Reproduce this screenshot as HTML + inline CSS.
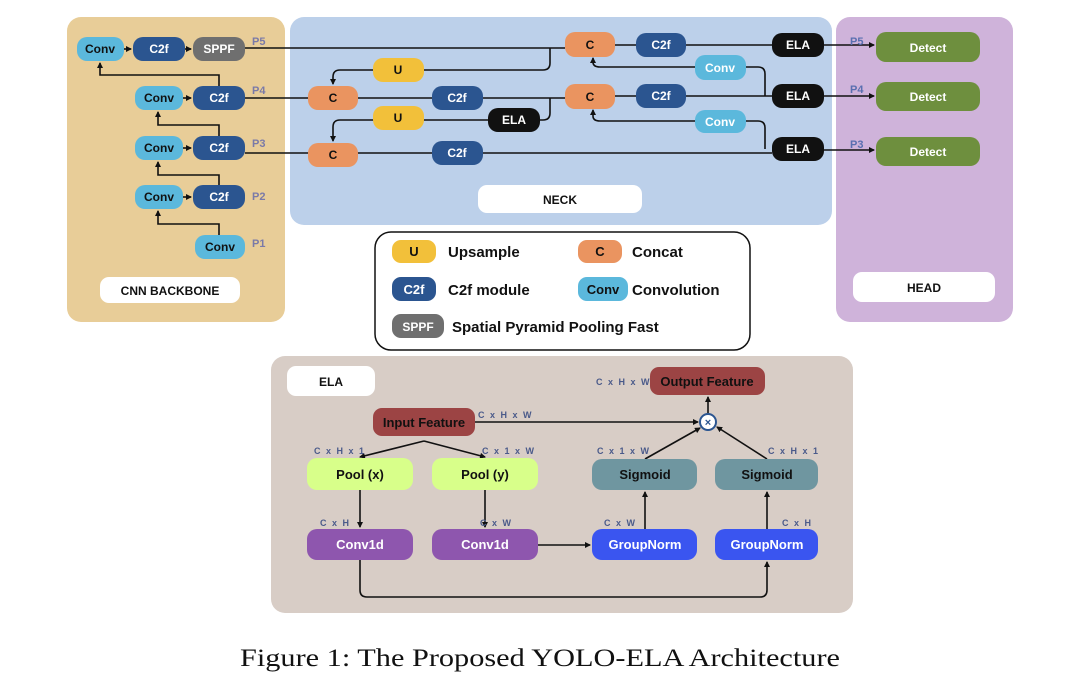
<!DOCTYPE html>
<html><head><meta charset="utf-8"><style>
body{margin:0;background:#fff;}
svg text{font-family:"Liberation Sans",sans-serif;font-weight:bold;}
</style></head><body>
<svg width="1080" height="674" viewBox="0 0 1080 674" xmlns="http://www.w3.org/2000/svg">
<defs>
<marker id="a" markerWidth="6" markerHeight="6" refX="5" refY="3" orient="auto" markerUnits="userSpaceOnUse"><path d="M0,0 L6,3 L0,6z" fill="#111"/></marker>
</defs>
<rect x="67" y="17" width="218" height="305" rx="14" fill="#e8cd98"/>
<rect x="290" y="17" width="542" height="208" rx="14" fill="#bcd0ea"/>
<rect x="836" y="17" width="177" height="305" rx="14" fill="#cfb3da"/>
<rect x="271" y="356" width="582" height="257" rx="14" fill="#d8cdc6"/>
<rect x="375" y="232" width="375" height="118" rx="16" fill="#fff" stroke="#111" stroke-width="1.5"/>
<rect x="100" y="277" width="140" height="26" rx="9" fill="#fff"/>
<text x="170" y="295" font-size="12" text-anchor="middle" fill="#111">CNN BACKBONE</text>
<rect x="478" y="185" width="164" height="28" rx="9" fill="#fff"/>
<text x="560" y="204" font-size="12" text-anchor="middle" fill="#111">NECK</text>
<rect x="853" y="272" width="142" height="30" rx="9" fill="#fff"/>
<text x="924" y="292" font-size="12" text-anchor="middle" fill="#111">HEAD</text>
<rect x="287" y="366" width="88" height="30" rx="9" fill="#fff"/>
<text x="331" y="386" font-size="12" text-anchor="middle" fill="#111" font-weight="normal">ELA</text>

<g stroke="#111" stroke-width="1.6" fill="none">
<line x1="124" y1="49" x2="131" y2="49" marker-end="url(#a)"/>
<line x1="185" y1="49" x2="191" y2="49" marker-end="url(#a)"/>
<line x1="183" y1="98" x2="191" y2="98" marker-end="url(#a)"/>
<line x1="183" y1="148" x2="191" y2="148" marker-end="url(#a)"/>
<line x1="183" y1="197" x2="191" y2="197" marker-end="url(#a)"/>
<path d="M219 86 V75 H100 V63" marker-end="url(#a)"/>
<path d="M219 136 V125 H158 V112" marker-end="url(#a)"/>
<path d="M219 185 V175 H158 V162" marker-end="url(#a)"/>
<path d="M219 235 V224 H158 V211" marker-end="url(#a)"/>
<path d="M245 48 H565"/>
<path d="M550 48 V63 Q550 70 543 70 H340 Q333 70 333 77 V84" marker-end="url(#a)"/>
<path d="M245 98 H615"/>
<path d="M550 98 V113 Q550 120 543 120 H340 Q333 120 333 127 V141" marker-end="url(#a)"/>
<path d="M245 153 H772"/>
<path d="M615 45 H772"/>
<path d="M615 96 H772"/>
<path d="M765 96 V74 Q765 67 758 67 H600 Q593 67 593 62 V58" marker-end="url(#a)"/>
<path d="M765 149 V128 Q765 121 758 121 H600 Q593 121 593 116 V110" marker-end="url(#a)"/>
<line x1="824" y1="45" x2="874" y2="45" marker-end="url(#a)"/>
<line x1="824" y1="96" x2="874" y2="96" marker-end="url(#a)"/>
<line x1="824" y1="150" x2="874" y2="150" marker-end="url(#a)"/>
<line x1="475" y1="422" x2="698" y2="422" marker-end="url(#a)"/>
<line x1="708" y1="413" x2="708" y2="397" marker-end="url(#a)"/>
<line x1="424" y1="441" x2="360" y2="457" marker-end="url(#a)"/>
<line x1="424" y1="441" x2="485" y2="457" marker-end="url(#a)"/>
<line x1="360" y1="490" x2="360" y2="527" marker-end="url(#a)"/>
<line x1="485" y1="490" x2="485" y2="527" marker-end="url(#a)"/>
<line x1="538" y1="545" x2="590" y2="545" marker-end="url(#a)"/>
<line x1="645" y1="529" x2="645" y2="492" marker-end="url(#a)"/>
<line x1="767" y1="529" x2="767" y2="492" marker-end="url(#a)"/>
<line x1="645" y1="459" x2="700" y2="428" marker-end="url(#a)"/>
<line x1="767" y1="459" x2="717" y2="427" marker-end="url(#a)"/>
<path d="M360 560 V590 Q360 597 367 597 H760 Q767 597 767 590 V562" marker-end="url(#a)"/>
</g>
<circle cx="708" cy="422" r="8" fill="#fff" stroke="#2b5590" stroke-width="2"/>
<text x="708" y="426" font-size="11" text-anchor="middle" fill="#2b5590">×</text>

<g font-size="12" text-anchor="middle">
<rect x="77" y="37" width="47" height="24" rx="10" fill="#5bb8dc"/><text x="100" y="53" fill="#111">Conv</text>
<rect x="133" y="37" width="52" height="24" rx="10" fill="#2b5590"/><text x="159" y="53" fill="#fff">C2f</text>
<rect x="193" y="37" width="52" height="24" rx="10" fill="#6f6f6f"/><text x="219" y="53" fill="#fff">SPPF</text>
<rect x="135" y="86" width="48" height="24" rx="10" fill="#5bb8dc"/><text x="159" y="102" fill="#111">Conv</text>
<rect x="193" y="86" width="52" height="24" rx="10" fill="#2b5590"/><text x="219" y="102" fill="#fff">C2f</text>
<rect x="135" y="136" width="48" height="24" rx="10" fill="#5bb8dc"/><text x="159" y="152" fill="#111">Conv</text>
<rect x="193" y="136" width="52" height="24" rx="10" fill="#2b5590"/><text x="219" y="152" fill="#fff">C2f</text>
<rect x="135" y="185" width="48" height="24" rx="10" fill="#5bb8dc"/><text x="159" y="201" fill="#111">Conv</text>
<rect x="193" y="185" width="52" height="24" rx="10" fill="#2b5590"/><text x="219" y="201" fill="#fff">C2f</text>
<rect x="195" y="235" width="50" height="24" rx="10" fill="#5bb8dc"/><text x="220" y="251" fill="#111">Conv</text>
<rect x="565" y="32" width="50" height="25" rx="10" fill="#ea9460"/><text x="590" y="49" fill="#111">C</text>
<rect x="636" y="33" width="50" height="24" rx="10" fill="#2b5590"/><text x="661" y="49" fill="#fff">C2f</text>
<rect x="772" y="33" width="52" height="24" rx="10" fill="#111"/><text x="798" y="49" fill="#fff">ELA</text>
<rect x="373" y="58" width="51" height="24" rx="10" fill="#f2c03a"/><text x="398" y="74" fill="#111">U</text>
<rect x="695" y="55" width="51" height="25" rx="10" fill="#5bb8dc"/><text x="720" y="72" fill="#fff">Conv</text>
<rect x="308" y="86" width="50" height="24" rx="10" fill="#ea9460"/><text x="333" y="102" fill="#111">C</text>
<rect x="432" y="86" width="51" height="24" rx="10" fill="#2b5590"/><text x="457" y="102" fill="#fff">C2f</text>
<rect x="565" y="84" width="50" height="25" rx="10" fill="#ea9460"/><text x="590" y="101" fill="#111">C</text>
<rect x="636" y="84" width="50" height="24" rx="10" fill="#2b5590"/><text x="661" y="100" fill="#fff">C2f</text>
<rect x="772" y="84" width="52" height="24" rx="10" fill="#111"/><text x="798" y="100" fill="#fff">ELA</text>
<rect x="373" y="106" width="51" height="24" rx="10" fill="#f2c03a"/><text x="398" y="122" fill="#111">U</text>
<rect x="488" y="108" width="52" height="24" rx="10" fill="#111"/><text x="514" y="124" fill="#fff">ELA</text>
<rect x="695" y="110" width="51" height="23" rx="10" fill="#5bb8dc"/><text x="720" y="126" fill="#fff">Conv</text>
<rect x="308" y="143" width="50" height="24" rx="10" fill="#ea9460"/><text x="333" y="159" fill="#111">C</text>
<rect x="432" y="141" width="51" height="24" rx="10" fill="#2b5590"/><text x="457" y="157" fill="#fff">C2f</text>
<rect x="772" y="137" width="52" height="24" rx="10" fill="#111"/><text x="798" y="153" fill="#fff">ELA</text>
<rect x="876" y="32" width="104" height="30" rx="10" fill="#6e8f3e"/><text x="928" y="52" fill="#fff">Detect</text>
<rect x="876" y="82" width="104" height="29" rx="10" fill="#6e8f3e"/><text x="928" y="101" fill="#fff">Detect</text>
<rect x="876" y="137" width="104" height="29" rx="10" fill="#6e8f3e"/><text x="928" y="156" fill="#fff">Detect</text>
</g>
<g font-size="11" fill="#7a7aa8">
<text x="252" y="45">P5</text><text x="252" y="94">P4</text><text x="252" y="147">P3</text><text x="252" y="200">P2</text><text x="252" y="247">P1</text>
<text x="850" y="45" fill="#5a6fb0">P5</text><text x="850" y="93" fill="#5a6fb0">P4</text><text x="850" y="148" fill="#5a6fb0">P3</text>
</g>
<g font-size="13" text-anchor="middle">
<rect x="392" y="240" width="44" height="23" rx="9" fill="#f2c03a"/><text x="414" y="256" fill="#111">U</text>
<rect x="578" y="240" width="44" height="23" rx="9" fill="#ea9460"/><text x="600" y="256" fill="#111">C</text>
<rect x="392" y="277" width="44" height="24" rx="9" fill="#2b5590"/><text x="414" y="294" fill="#fff">C2f</text>
<rect x="578" y="277" width="50" height="24" rx="9" fill="#5bb8dc"/><text x="603" y="294" fill="#111">Conv</text>
<rect x="392" y="314" width="52" height="24" rx="9" fill="#6f6f6f"/><text x="418" y="331" fill="#fff" font-size="12">SPPF</text>
</g>
<g font-size="15" fill="#111">
<text x="448" y="257">Upsample</text><text x="632" y="257">Concat</text>
<text x="448" y="295">C2f module</text><text x="632" y="295">Convolution</text>
<text x="452" y="332">Spatial Pyramid Pooling Fast</text>
</g>
<g font-size="13" text-anchor="middle">
<rect x="650" y="367" width="115" height="28" rx="9" fill="#9c4444"/><text x="707" y="386" fill="#111">Output Feature</text>
<rect x="373" y="408" width="102" height="28" rx="9" fill="#9c4444"/><text x="424" y="427" fill="#111">Input Feature</text>
<rect x="307" y="458" width="106" height="32" rx="10" fill="#d8ff8a"/><text x="360" y="479" fill="#111">Pool (x)</text>
<rect x="432" y="458" width="106" height="32" rx="10" fill="#d8ff8a"/><text x="485" y="479" fill="#111">Pool (y)</text>
<rect x="592" y="459" width="105" height="31" rx="10" fill="#6f96a0"/><text x="645" y="479" fill="#111">Sigmoid</text>
<rect x="715" y="459" width="103" height="31" rx="10" fill="#6f96a0"/><text x="767" y="479" fill="#111">Sigmoid</text>
<rect x="307" y="529" width="106" height="31" rx="10" fill="#8e56ae"/><text x="360" y="549" fill="#fff">Conv1d</text>
<rect x="432" y="529" width="106" height="31" rx="10" fill="#8e56ae"/><text x="485" y="549" fill="#fff">Conv1d</text>
<rect x="592" y="529" width="105" height="31" rx="10" fill="#3a55f0"/><text x="645" y="549" fill="#fff">GroupNorm</text>
<rect x="715" y="529" width="103" height="31" rx="10" fill="#3a55f0"/><text x="767" y="549" fill="#fff">GroupNorm</text>
</g>
<g font-size="9" fill="#4a5a8a" letter-spacing="1.5">
<text x="596" y="385">C x H x W</text><text x="478" y="418">C x H x W</text>
<text x="314" y="454">C x H x 1</text><text x="482" y="454">C x 1 x W</text>
<text x="597" y="454">C x 1 x W</text><text x="768" y="454">C x H x 1</text>
<text x="320" y="526">C x H</text><text x="480" y="526">C x W</text>
<text x="604" y="526">C x W</text><text x="782" y="526">C x H</text>
</g>
<text x="240" y="666" font-size="25" textLength="600" lengthAdjust="spacingAndGlyphs" fill="#111" style="font-family:'Liberation Serif',serif;font-weight:normal">Figure 1: The Proposed YOLO-ELA Architecture</text>
</svg>
</body></html>
